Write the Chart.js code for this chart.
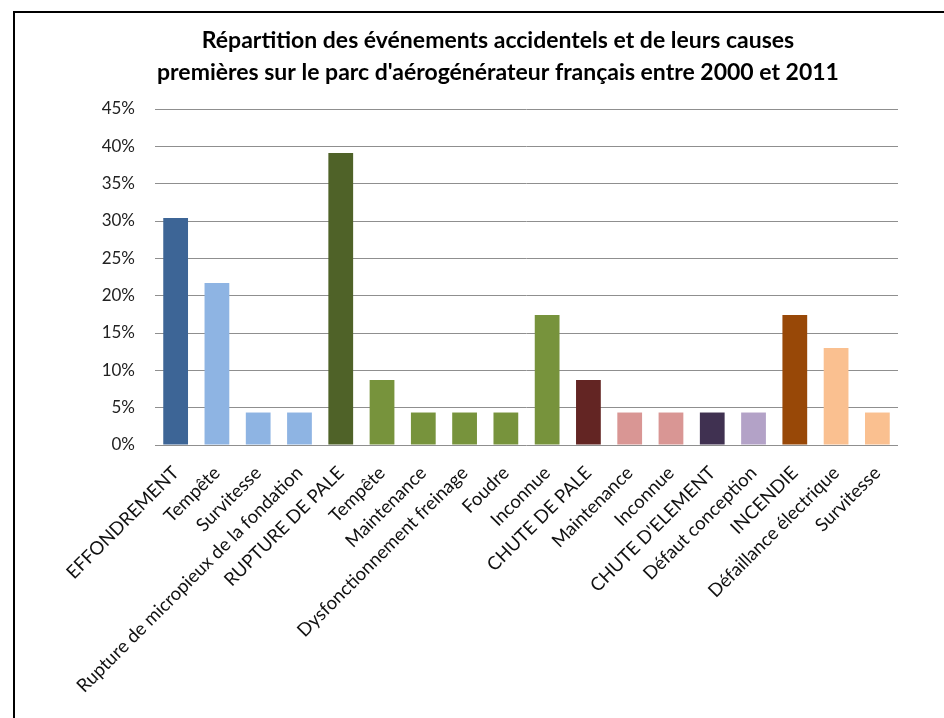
<!DOCTYPE html>
<html>
<head>
<meta charset="utf-8">
<script src="https://cdn.jsdelivr.net/npm/chart.js@4/dist/chart.umd.min.js"></script>
<style>
  html, body { margin: 0; padding: 0; background: #fff; overflow: hidden; width: 944px; height: 718px; }
  #box { position: absolute; left: 13px; top: 11px; border: 2px solid #000; width: 966px; height: 705px; }
  canvas { display: block; }
</style>
</head>
<body>
<div id="box"><canvas id="c" width="966" height="705"></canvas></div>
<script>
const categories = [
  "EFFONDREMENT", "Tempête", "Survitesse", "Rupture de micropieux de la fondation",
  "RUPTURE DE PALE", "Tempête", "Maintenance", "Dysfonctionnement freinage", "Foudre", "Inconnue",
  "CHUTE DE PALE", "Maintenance", "Inconnue",
  "CHUTE D'ELEMENT", "Défaut conception",
  "INCENDIE", "Défaillance électrique", "Survitesse"
];
const values = [30.4, 21.7, 4.35, 4.35, 39.1, 8.7, 4.35, 4.35, 4.35, 17.4, 8.7, 4.35, 4.35, 4.35, 4.35, 17.4, 13.0, 4.35];
const barColors = [
  "#3D6596", "#8EB4E3", "#8EB4E3", "#8EB4E3",
  "#4F6228", "#77933C", "#77933C", "#77933C", "#77933C", "#77933C",
  "#632523", "#D99694", "#D99694",
  "#403151", "#B3A2C7",
  "#984807", "#FAC090", "#FAC090"
];
const yTicks = [0, 5, 10, 15, 20, 25, 30, 35, 40, 45];
const titleLines = [
  "Répartition des événements accidentels et de leurs causes",
  "premières sur le parc d'aérogénérateur français entre 2000 et 2011"
];

new Chart(document.getElementById('c'), {
  type: 'bar',
  data: {
    labels: categories,
    datasets: [{
      data: values,
      backgroundColor: barColors,
      borderWidth: 0,
      barPercentage: 0.6,
      categoryPercentage: 1.0
    }]
  },
  options: {
    responsive: false,
    animation: false,
    layout: { padding: 0 },
    plugins: {
      legend: { display: false },
      tooltip: { enabled: false },
      title: {
        display: true,
        text: titleLines,
        color: '#000',
        font: { family: 'Lato', size: 23, weight: 'bold', lineHeight: '32px' },
        padding: { top: 12, bottom: 20 }
      }
    },
    scales: {
      x: {
        grid: { display: false, drawTicks: false },
        border: { display: false },
        ticks: {
          color: '#111',
          font: { family: 'Lato', size: 18.5 },
          minRotation: 45, maxRotation: 45,
          autoSkip: false,
          padding: 17
        },
        afterFit: (s) => { s.height = 273; }
      },
      y: {
        min: 0, max: 45,
        afterBuildTicks: (s) => { s.ticks = yTicks.map(v => ({ value: v })); },
        grid: { color: '#8f8f8f', lineWidth: 1, drawTicks: false },
        border: { display: false },
        ticks: {
          color: '#222',
          font: { family: 'Lato', size: 17 },
          padding: 20,
          callback: (v) => v + '%'
        },
        afterFit: (s) => { s.width = 140; }
      },
      yRight: {
        position: 'right',
        display: true,
        min: 0, max: 45,
        grid: { display: false, drawTicks: false },
        border: { display: false },
        ticks: { display: false },
        afterFit: (s) => { s.width = 83; }
      }
    }
  }
});
</script>
</body>
</html>
